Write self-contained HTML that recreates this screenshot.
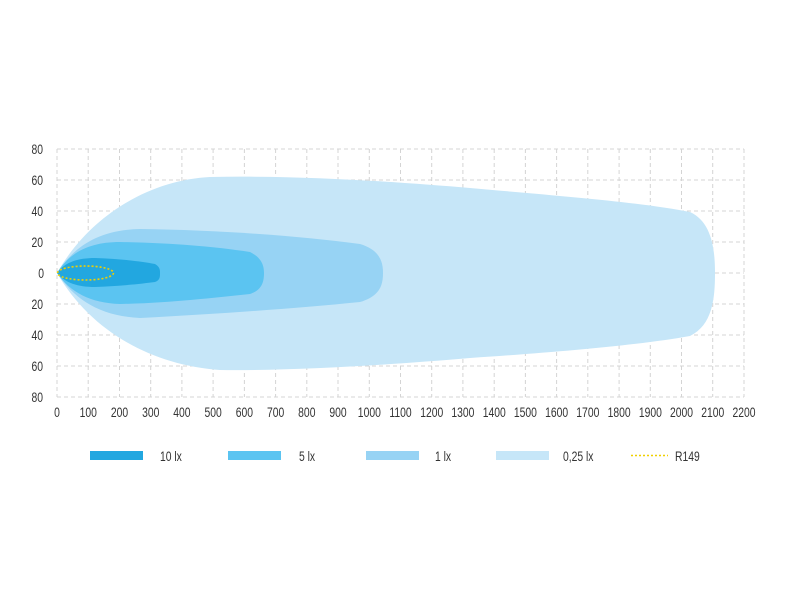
<!DOCTYPE html>
<html><head><style>
body{margin:0;background:#fff}
svg text{font-family:"Liberation Sans",sans-serif;fill:#333;font-size:14px;transform-box:fill-box;transform-origin:center;transform:scaleX(0.74)}
svg text.l{transform-origin:left center}
</style></head><body>
<svg width="800" height="600" xmlns="http://www.w3.org/2000/svg">
<g stroke="#d4d4d4" stroke-dasharray="4,3" stroke-width="1">
<line x1="57" y1="149" x2="744" y2="149"/><line x1="57" y1="180" x2="744" y2="180"/><line x1="57" y1="211" x2="744" y2="211"/><line x1="57" y1="242" x2="744" y2="242"/><line x1="57" y1="273" x2="744" y2="273"/><line x1="57" y1="304" x2="744" y2="304"/><line x1="57" y1="335" x2="744" y2="335"/><line x1="57" y1="366" x2="744" y2="366"/><line x1="57" y1="397" x2="744" y2="397"/>
<line x1="57.0" y1="149" x2="57.0" y2="397"/><line x1="88.2" y1="149" x2="88.2" y2="397"/><line x1="119.5" y1="149" x2="119.5" y2="397"/><line x1="150.7" y1="149" x2="150.7" y2="397"/><line x1="181.9" y1="149" x2="181.9" y2="397"/><line x1="213.1" y1="149" x2="213.1" y2="397"/><line x1="244.4" y1="149" x2="244.4" y2="397"/><line x1="275.6" y1="149" x2="275.6" y2="397"/><line x1="306.8" y1="149" x2="306.8" y2="397"/><line x1="338.0" y1="149" x2="338.0" y2="397"/><line x1="369.3" y1="149" x2="369.3" y2="397"/><line x1="400.5" y1="149" x2="400.5" y2="397"/><line x1="431.7" y1="149" x2="431.7" y2="397"/><line x1="462.9" y1="149" x2="462.9" y2="397"/><line x1="494.2" y1="149" x2="494.2" y2="397"/><line x1="525.4" y1="149" x2="525.4" y2="397"/><line x1="556.6" y1="149" x2="556.6" y2="397"/><line x1="587.8" y1="149" x2="587.8" y2="397"/><line x1="619.1" y1="149" x2="619.1" y2="397"/><line x1="650.3" y1="149" x2="650.3" y2="397"/><line x1="681.5" y1="149" x2="681.5" y2="397"/><line x1="712.7" y1="149" x2="712.7" y2="397"/><line x1="744.0" y1="149" x2="744.0" y2="397"/>
</g>
<path fill="#c6e6f8" d="M57,273 C90,215 150,180 210,177 C300,175 400,182 470,188 C560,196 640,202 690,212 C712,222 715,250 715,273 C715,300 712,325 690,336 C640,345 560,352 470,358 C400,364 300,371 220,370 C150,365 90,330 57,273Z"/>
<path fill="#97d3f4" d="M57,273 C75,245 100,230 140,229 C220,230 300,236 360,244 C380,250 383,262 383,273 C383,285 380,296 360,302 C300,308 220,314 140,318 C100,316 75,300 57,273Z"/>
<path fill="#5bc4f1" d="M57,273 C70,252 90,242 120,242 C170,243 210,246 250,252 C262,258 264,266 264,273 C264,282 262,290 250,294 C210,298 170,303 120,304 C90,303 70,292 57,273Z"/>
<path fill="#22a7e0" d="M57,273 C65,262 78,258 95,258 C120,259 140,261 155,264 C160,267 160,270 160,273 C160,277 160,280 155,282 C140,284 120,286 95,287 C78,287 65,283 57,273Z"/>
<ellipse cx="85.5" cy="273" rx="28" ry="7" fill="none" stroke="#f0d000" stroke-width="1.6" stroke-dasharray="2,2"/>
<g text-anchor="end">
<text x="45" y="154">80</text><text x="45" y="185">60</text><text x="45" y="216">40</text><text x="45" y="247">20</text><text x="45" y="278">0</text><text x="45" y="309">20</text><text x="45" y="340">40</text><text x="45" y="371">60</text><text x="45" y="402">80</text>
</g>
<g text-anchor="middle">
<text x="57.0" y="417">0</text><text x="88.2" y="417">100</text><text x="119.5" y="417">200</text><text x="150.7" y="417">300</text><text x="181.9" y="417">400</text><text x="213.1" y="417">500</text><text x="244.4" y="417">600</text><text x="275.6" y="417">700</text><text x="306.8" y="417">800</text><text x="338.0" y="417">900</text><text x="369.3" y="417">1000</text><text x="400.5" y="417">1100</text><text x="431.7" y="417">1200</text><text x="462.9" y="417">1300</text><text x="494.2" y="417">1400</text><text x="525.4" y="417">1500</text><text x="556.6" y="417">1600</text><text x="587.8" y="417">1700</text><text x="619.1" y="417">1800</text><text x="650.3" y="417">1900</text><text x="681.5" y="417">2000</text><text x="712.7" y="417">2100</text><text x="744.0" y="417">2200</text>
</g>
<rect x="90" y="451" width="53" height="9" fill="#22a7e0"/><text class="l" x="160" y="461">10 lx</text>
<rect x="228" y="451" width="53" height="9" fill="#5bc4f1"/><text class="l" x="299" y="461">5 lx</text>
<rect x="366" y="451" width="53" height="9" fill="#97d3f4"/><text class="l" x="435" y="461">1 lx</text>
<rect x="496" y="451" width="53" height="9" fill="#c6e6f8"/><text class="l" x="563" y="461">0,25 lx</text>
<line x1="631" y1="455.5" x2="668" y2="455.5" stroke="#f0d000" stroke-width="1.5" stroke-dasharray="2,2"/><text class="l" x="675" y="461">R149</text>
</svg>
</body></html>
